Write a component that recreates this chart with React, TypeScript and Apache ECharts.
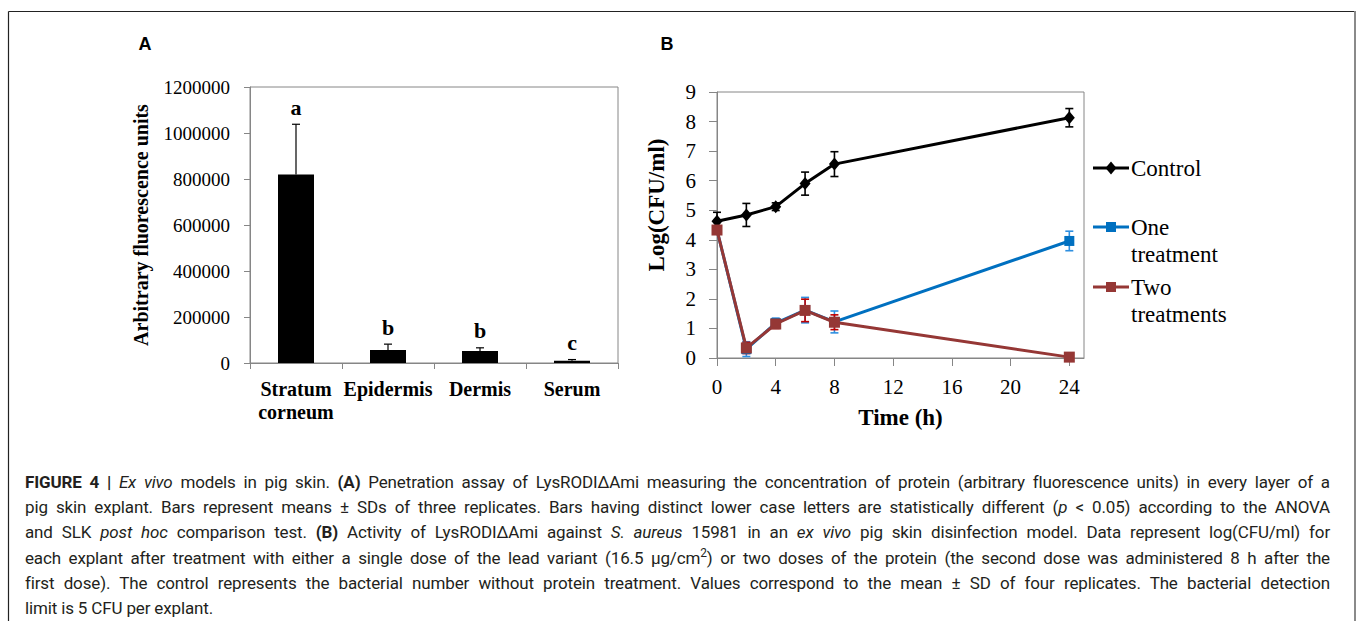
import React, { useEffect, useRef } from "react";
import * as echarts from "echarts";

// ---- Panel A data ----
const layers = ["Stratum\ncorneum", "Epidermis", "Dermis", "Serum"];
const fluorescence = [820000, 57000, 52000, 10000];
const fluorescenceSD = [218000, 25000, 14000, 5000];
const letters = ["a", "b", "b", "c"];
const fluoTicks = { min: 0, max: 1200000, interval: 200000 };

// ---- Panel B data ----
const hours = [0, 2, 4, 6, 8, 24];
const control = [4.63, 4.84, 5.12, 5.9, 6.56, 8.13];
const controlSD = [0.3, 0.39, 0.13, 0.39, 0.42, 0.31];
const oneTreatment = [4.33, 0.3, 1.18, 1.62, 1.22, 3.96];
const oneTreatmentSD = [0.08, 0.25, 0.17, 0.43, 0.37, 0.33];
const twoTreatments = [4.33, 0.34, 1.15, 1.61, 1.21, 0.03];
const twoTreatmentsSD = [0.05, 0.19, 0.15, 0.38, 0.25, 0.02];
const timeTicks = [0, 4, 8, 12, 16, 20, 24];
const logTicks = { min: 0, max: 9, interval: 1 };

const SERIF = '"Liberation Serif", "Times New Roman", serif';
const AXIS_GRAY = "#868686";
const BLACK = "#000000";
const BLUE = "#0070c0";
const BLUE_ERR = "#2e8fe0";
const RED = "#953735";
const RED_ERR = "#c00000";

function errorBars(
  name: string,
  xs: number[],
  ys: number[],
  sds: number[],
  color: string,
  axisIdx: number
) {
  return {
    name,
    type: "custom",
    xAxisIndex: axisIdx,
    yAxisIndex: axisIdx,
    silent: true,
    data: xs.map((x, i) => [x, ys[i], sds[i]]),
    renderItem: (params: any, api: any) => {
      const x = api.value(0);
      const y = api.value(1);
      const e = api.value(2);
      const hi = api.coord([x, y + e]);
      const lo = api.coord([x, Math.max(0, y - e)]);
      const half = 4;
      const ls = { stroke: color, lineWidth: 1.6 };
      return {
        type: "group",
        children: [
          { type: "line", shape: { x1: hi[0], y1: hi[1], x2: lo[0], y2: lo[1] }, style: ls },
          { type: "line", shape: { x1: hi[0] - half, y1: hi[1], x2: hi[0] + half, y2: hi[1] }, style: ls },
          { type: "line", shape: { x1: lo[0] - half, y1: lo[1], x2: lo[0] + half, y2: lo[1] }, style: ls },
        ],
      };
    },
  };
}

const captionLines: React.ReactNode[] = [
  <>
    <b>FIGURE 4 |</b> <i>Ex vivo</i> models in pig skin. <b>(A)</b> Penetration assay of LysRODIΔAmi measuring the
    concentration of protein (arbitrary fluorescence units) in every layer of a
  </>,
  <>
    pig skin explant. Bars represent means ± SDs of three replicates. Bars having distinct lower case letters are
    statistically different (<i>p</i> &lt; 0.05) according to the ANOVA
  </>,
  <>
    and SLK <i>post hoc</i> comparison test. <b>(B)</b> Activity of LysRODIΔAmi against <i>S. aureus</i> 15981 in an{" "}
    <i>ex vivo</i> pig skin disinfection model. Data represent log(CFU/ml) for
  </>,
  <>
    each explant after treatment with either a single dose of the lead variant (16.5 μg/cm
    <sup style={{ fontSize: "0.7em", lineHeight: 0 }}>2</sup>) or two doses of the protein (the second dose was
    administered 8 h after the
  </>,
  <>
    first dose). The control represents the bacterial number without protein treatment. Values correspond to the mean
    ± SD of four replicates. The bacterial detection
  </>,
  <>limit is 5 CFU per explant.</>,
];

export default function App() {
  const ref = useRef<HTMLDivElement>(null);

  useEffect(() => {
    if (!ref.current) return;
    const chart = echarts.init(ref.current, undefined, { renderer: "svg" });

    const legendItems = [
      { y: 168, color: BLACK, marker: "diamond", lines: ["Control"] },
      { y: 227, color: BLUE, marker: "square", lines: ["One", "treatment"] },
      { y: 287, color: RED, marker: "square", lines: ["Two", "treatments"] },
    ];
    const legendGraphics: any[] = [];
    legendItems.forEach((it) => {
      legendGraphics.push({
        type: "line",
        shape: { x1: 1093, y1: it.y, x2: 1129, y2: it.y },
        style: { stroke: it.color, lineWidth: 3 },
      });
      if (it.marker === "diamond") {
        legendGraphics.push({
          type: "polygon",
          shape: { points: [[1111, it.y - 6.5], [1116.5, it.y], [1111, it.y + 6.5], [1105.5, it.y]] },
          style: { fill: it.color },
        });
      } else {
        legendGraphics.push({
          type: "rect",
          shape: { x: 1106, y: it.y - 5, width: 10, height: 10 },
          style: { fill: it.color },
        });
      }
      it.lines.forEach((t, k) => {
        legendGraphics.push({
          type: "text",
          x: 1131,
          y: it.y + k * 27,
          style: {
            text: t,
            fill: "#000",
            fontFamily: SERIF,
            fontSize: 23,
            align: "left",
            verticalAlign: "middle",
          },
        });
      });
    });

    const option: any = {
      animation: false,
      backgroundColor: "#ffffff",
      graphic: [
        { type: "line", shape: { x1: 8.5, y1: 11.5, x2: 1355, y2: 11.5 }, style: { stroke: "#222", lineWidth: 1.2 } },
        { type: "line", shape: { x1: 8.5, y1: 11.5, x2: 8.5, y2: 640 }, style: { stroke: "#222", lineWidth: 1.2 } },
        { type: "line", shape: { x1: 1355, y1: 11, x2: 1355, y2: 640 }, style: { stroke: "#8a8a8a", lineWidth: 2 } },
        {
          type: "text",
          x: 145,
          y: 44,
          style: { text: "A", fontFamily: "Liberation Sans, Arial, sans-serif", fontWeight: "bold", fontSize: 18, fill: "#000", align: "center", verticalAlign: "middle" },
        },
        {
          type: "text",
          x: 667,
          y: 44,
          style: { text: "B", fontFamily: "Liberation Sans, Arial, sans-serif", fontWeight: "bold", fontSize: 18, fill: "#000", align: "center", verticalAlign: "middle" },
        },
        ...legendGraphics,
      ],
      grid: [
        { left: 250, top: 87, right: 740, bottom: 258, show: true, borderColor: AXIS_GRAY, borderWidth: 1 },
        { left: 717, top: 92, right: 274, bottom: 263, show: true, borderColor: AXIS_GRAY, borderWidth: 1 },
      ],
      xAxis: [
        {
          type: "category",
          gridIndex: 0,
          data: layers,
          axisLine: { lineStyle: { color: AXIS_GRAY } },
          axisTick: { show: true, alignWithLabel: false, length: 6, lineStyle: { color: AXIS_GRAY } },
          axisLabel: {
            color: "#000",
            fontFamily: SERIF,
            fontWeight: "bold",
            fontSize: 20,
            lineHeight: 23,
            margin: 14,
            interval: 0,
          },
          splitLine: { show: false },
        },
        {
          type: "value",
          gridIndex: 1,
          min: 0,
          max: 25,
          interval: 4,
          name: "Time (h)",
          nameLocation: "middle",
          nameGap: 48,
          nameTextStyle: { color: "#000", fontFamily: SERIF, fontWeight: "bold", fontSize: 23 },
          axisLine: { lineStyle: { color: AXIS_GRAY } },
          axisTick: { show: true, length: 8, lineStyle: { color: AXIS_GRAY }, customValues: timeTicks },
          axisLabel: { color: "#000", fontFamily: SERIF, fontSize: 21, margin: 18, customValues: timeTicks },
          splitLine: { show: false },
        },
      ],
      yAxis: [
        {
          type: "value",
          gridIndex: 0,
          min: fluoTicks.min,
          max: fluoTicks.max,
          interval: fluoTicks.interval,
          name: "Arbitrary fluorescence units",
          nameLocation: "middle",
          nameGap: 99,
          nameTextStyle: { color: "#000", fontFamily: SERIF, fontWeight: "bold", fontSize: 20 },
          axisLine: { show: true, lineStyle: { color: AXIS_GRAY } },
          axisTick: { show: true, length: 6, lineStyle: { color: AXIS_GRAY } },
          axisLabel: {
            color: "#000",
            fontFamily: SERIF,
            fontSize: 19,
            margin: 20,
            formatter: (v: number) => String(v),
          },
          splitLine: { show: false },
        },
        {
          type: "value",
          gridIndex: 1,
          min: logTicks.min,
          max: logTicks.max,
          interval: logTicks.interval,
          name: "Log(CFU/ml)",
          nameLocation: "middle",
          nameGap: 49,
          nameTextStyle: {
            color: "#000",
            fontFamily: SERIF,
            fontWeight: "bold",
            fontSize: 23,
            padding: [0, 0, 0, 40],
          },
          axisLine: { show: true, lineStyle: { color: AXIS_GRAY } },
          axisTick: { show: true, length: 8, lineStyle: { color: AXIS_GRAY } },
          axisLabel: { color: "#000", fontFamily: SERIF, fontSize: 21, margin: 21 },
          splitLine: { show: false },
        },
      ],
      series: [
        {
          name: "Fluorescence",
          type: "bar",
          xAxisIndex: 0,
          yAxisIndex: 0,
          data: fluorescence,
          barWidth: 36,
          itemStyle: { color: "#000" },
          silent: true,
        },
        {
          name: "Fluorescence SD",
          type: "custom",
          xAxisIndex: 0,
          yAxisIndex: 0,
          silent: true,
          data: fluorescence.map((v, i) => [i, v, fluorescenceSD[i]]),
          renderItem: (params: any, api: any) => {
            const i = api.value(0);
            const v = api.value(1);
            const e = api.value(2);
            const base = api.coord([i, v]);
            const top = api.coord([i, v + e]);
            const ls = { stroke: "#000", lineWidth: 1.2 };
            return {
              type: "group",
              children: [
                { type: "line", shape: { x1: base[0], y1: base[1], x2: top[0], y2: top[1] }, style: ls },
                { type: "line", shape: { x1: top[0] - 4, y1: top[1], x2: top[0] + 4, y2: top[1] }, style: ls },
                {
                  type: "text",
                  x: top[0],
                  y: top[1] - 6,
                  style: {
                    text: letters[params.dataIndex],
                    fill: "#000",
                    fontFamily: SERIF,
                    fontWeight: "bold",
                    fontSize: 22,
                    align: "center",
                    verticalAlign: "bottom",
                  },
                },
              ],
            };
          },
        },
        errorBars("Control SD", hours, control, controlSD, BLACK, 1),
        {
          name: "Control",
          type: "line",
          xAxisIndex: 1,
          yAxisIndex: 1,
          data: hours.map((h, i) => [h, control[i]]),
          symbol: "diamond",
          symbolSize: [11, 13],
          lineStyle: { color: BLACK, width: 3 },
          itemStyle: { color: BLACK },
          silent: true,
        },
        errorBars("One treatment SD", hours, oneTreatment, oneTreatmentSD, BLUE_ERR, 1),
        {
          name: "One treatment",
          type: "line",
          xAxisIndex: 1,
          yAxisIndex: 1,
          data: hours.map((h, i) => [h, oneTreatment[i]]),
          symbol: "rect",
          symbolSize: 10,
          lineStyle: { color: BLUE, width: 3 },
          itemStyle: { color: BLUE },
          silent: true,
        },
        errorBars("Two treatments SD", hours, twoTreatments, twoTreatmentsSD, RED_ERR, 1),
        {
          name: "Two treatments",
          type: "line",
          xAxisIndex: 1,
          yAxisIndex: 1,
          data: hours.map((h, i) => [h, twoTreatments[i]]),
          symbol: "rect",
          symbolSize: 11,
          lineStyle: { color: RED, width: 3 },
          itemStyle: { color: RED },
          silent: true,
        },
      ],
    };

    chart.setOption(option);
    return () => chart.dispose();
  }, []);

  return (
    <div style={{ position: "fixed", left: 0, top: 0, width: 1358, height: 621, background: "#fff", overflow: "hidden" }}>
      <div ref={ref} style={{ position: "absolute", left: 0, top: 0, width: 1358, height: 621 }} />
      <div
        style={{
          position: "absolute",
          left: 25,
          top: 470,
          width: 1305,
          fontFamily: 'Roboto, "Liberation Sans", Arial, sans-serif',
          fontSize: 17,
          letterSpacing: "-0.15px",
          lineHeight: "25.2px",
          color: "#231f20",
        }}
      >
        {captionLines.map((ln, i) => (
          <div
            key={i}
            style={{
              whiteSpace: "nowrap",
              textAlign: "justify",
              textAlignLast: i < captionLines.length - 1 ? "justify" : "left",
            }}
          >
            {ln}
          </div>
        ))}
      </div>
    </div>
  );
}
